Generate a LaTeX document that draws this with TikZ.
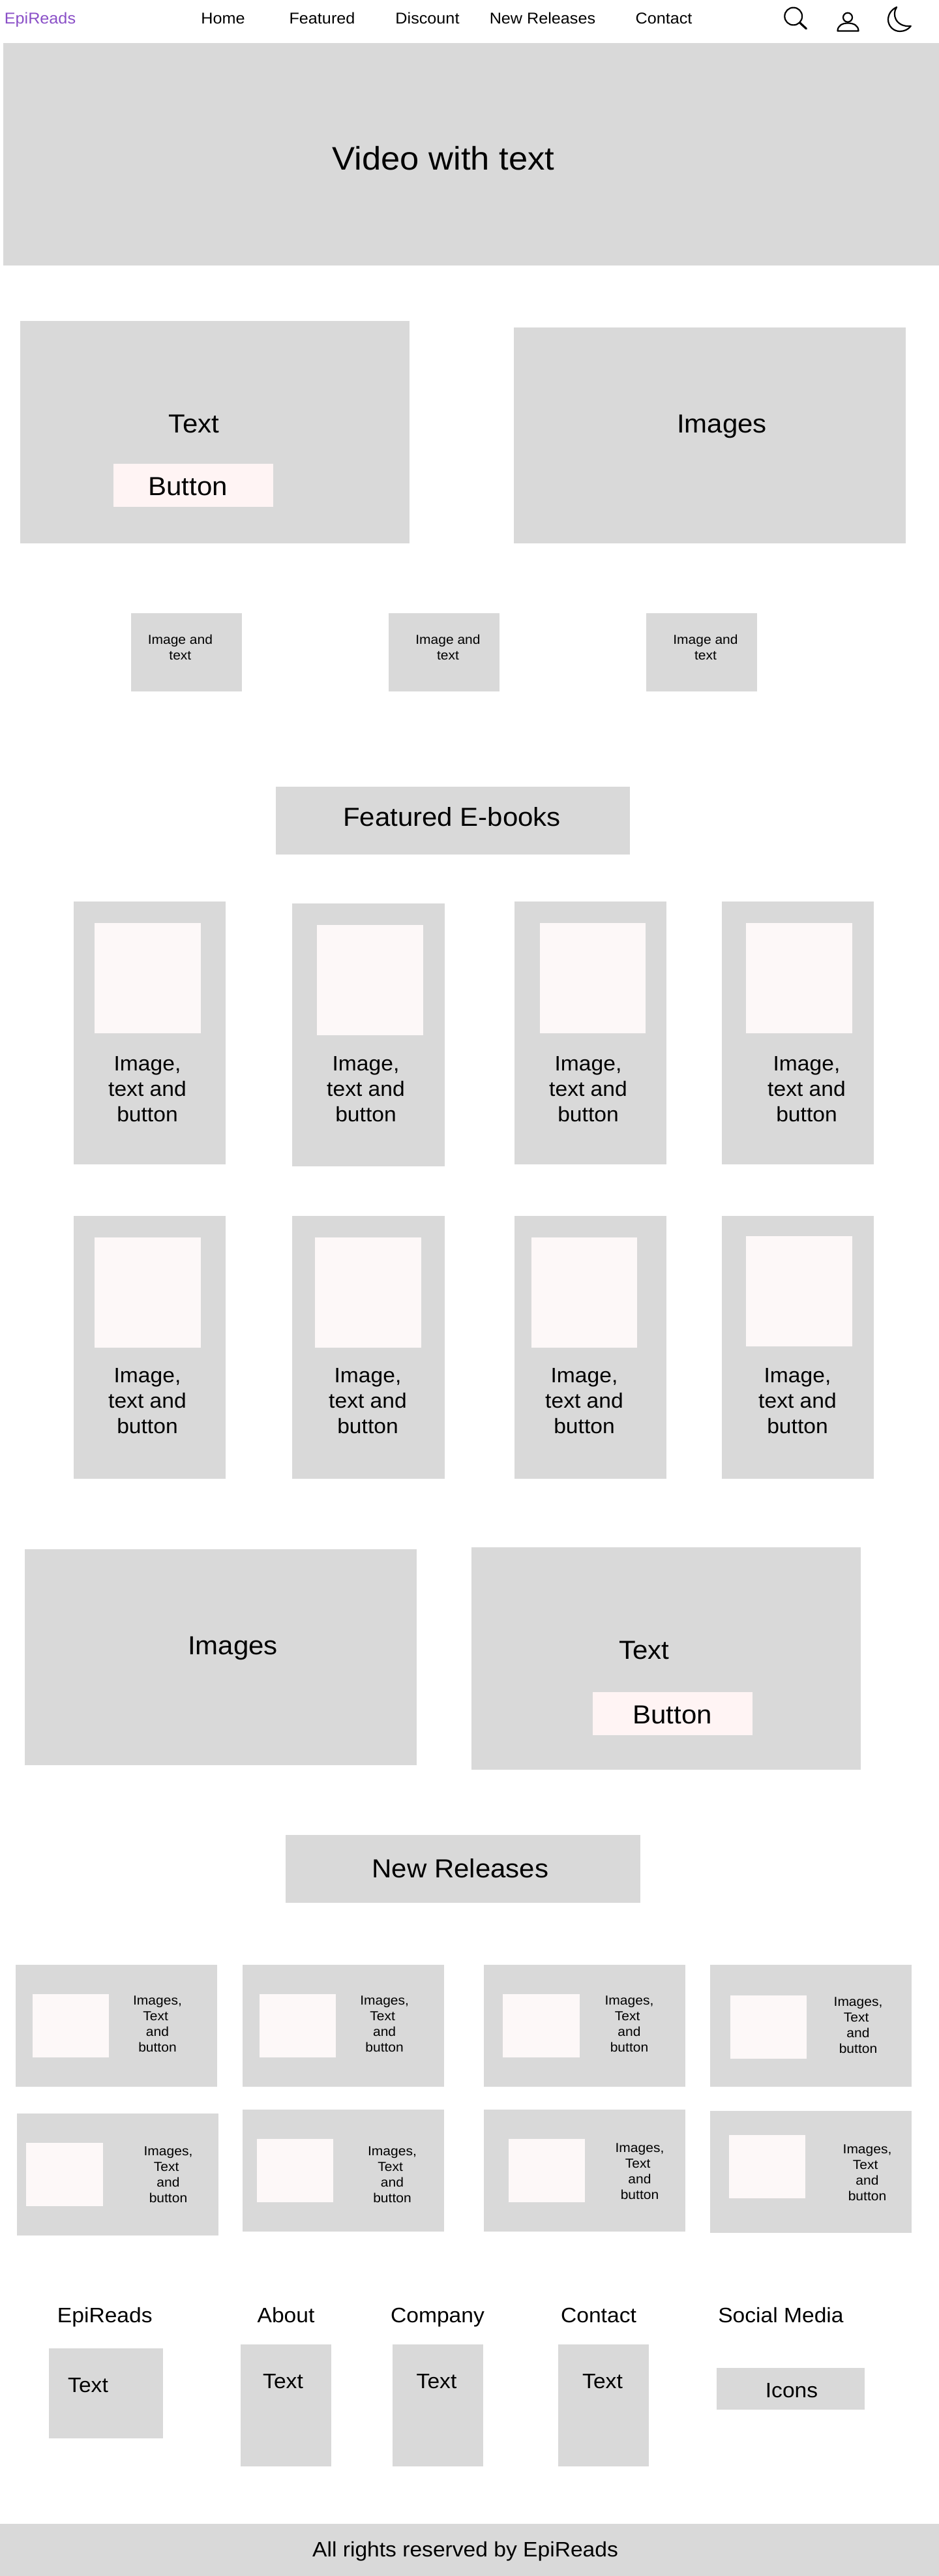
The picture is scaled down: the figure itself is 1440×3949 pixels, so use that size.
\documentclass[tikz,border=0pt]{standalone}
\usepackage{fontspec}
\setmainfont[FakeStretch=1.05]{Liberation Sans}
\definecolor{boxgray}{HTML}{D9D9D9}
\definecolor{btnpink}{HTML}{FFF4F4}
\definecolor{imgpink}{HTML}{FDF8F8}
\definecolor{logopurple}{HTML}{8A4FC7}
\tikzset{
  gbox/.style={fill=boxgray},
  btnbox/.style={fill=btnpink},
  imgbox/.style={fill=imgpink},
  txt/.style={inner sep=0pt,outer sep=0pt,align=center,text=black},
  tA/.style={txt,font=\fontsize{20}{24}\selectfont,yshift=-2.4pt},
  tB/.style={txt,font=\fontsize{24}{29}\selectfont,yshift=-2.9pt},
  tC/.style={txt,font=\fontsize{32}{39}\selectfont,yshift=-3.8pt},
  tD/.style={txt,font=\fontsize{40}{48}\selectfont,yshift=-4.8pt},
  tE/.style={txt,font=\fontsize{50}{60}\selectfont,yshift=-6pt},
  icon/.style={draw=black,line width=2.2pt,line cap=round,line join=round},
}
\newcommand{\srect}[5]{\path[#1] (#2,#3) rectangle (#4,#5);}
\newcommand{\fcard}[8]{%
  \srect{gbox}{#2}{#3}{#4}{#5}
  \srect{imgbox}{#6}{#7}{#6+162.6}{#7+169}
  \node[tC] (#1) at (#8,\ftexty) {Image,\strut\\text and\strut\\button\strut};
}
\newcommand{\rcard}[8]{%
  \srect{gbox}{#2}{#3}{#2+309}{#3+187}
  \srect{imgbox}{#4}{#5}{#4+117.4}{#5+97}
  \node[tA] (#1) at (#6,#7) {Images,\strut\\Text~\strut\\and\strut\\button\strut};
}
\begin{document}
\begin{tikzpicture}[x=1pt,y=-1pt]
\useasboundingbox (0,0) rectangle (1440,3949);
\fill[white] (0,0) rectangle (1440,3949);
% nav
\node[tB,text=logopurple] (logo) at (61.5,28) {EpiReads\strut};
\node[tB] (nhome) at (342,28) {Home\strut};
\node[tB] (nfeat) at (494,28) {Featured\strut};
\node[tB] (ndisc) at (655.5,28) {Discount\strut};
\node[tB] (nnew) at (832,28) {New Releases\strut};
\node[tB] (ncont) at (1018,28) {Contact\strut};
% icons
\draw[icon] (1216.7,25) circle (13.4);
\draw[icon,line width=3.2pt] (1226.7,35) -- (1236.5,44);
\draw[icon] (1300,26.7) circle (7);
\draw[icon] (1284.5,47.5) .. controls (1284.5,39) and (1292,35.5) .. (1300.3,35.5) .. controls (1309,35.5) and (1316.5,39) .. (1316.5,47.5) -- cycle;
\draw[icon] (1375,11) .. controls (1366,15) and (1362,23) .. (1362,30) .. controls (1362,40) and (1370,48) .. (1380,48) .. controls (1387,48) and (1393,45) .. (1396.8,40) .. controls (1386,41) and (1378,37) .. (1374,30) .. controls (1371,24) and (1371,17) .. (1375,11) -- cycle;
% hero
\srect{gbox}{5}{66}{1440}{407}
\node[tE] (hero) at (680,242) {Video with text\strut};
% split 1
\srect{gbox}{31}{492}{628}{833}
\srect{gbox}{788}{502}{1389}{833}
\srect{btnbox}{174}{711}{419}{777}
\node[tD] (s1t) at (297.5,649) {Text\strut};
\node[tD] (s1b) at (288,745) {Button\strut};
\node[tD] (s1i) at (1107,649) {Images\strut};
% small boxes
\srect{gbox}{201}{940}{371}{1060}
\srect{gbox}{596}{940}{766}{1060}
\srect{gbox}{991}{940}{1161}{1060}
\node[tA] (sm1) at (276.4,992) {Image and\strut\\text\strut};
\node[tA] (sm2) at (687,992) {Image and\strut\\text\strut};
\node[tA] (sm3) at (1082,992) {Image and\strut\\text\strut};
% featured
\srect{gbox}{422.5}{1206}{966}{1310}
\node[tD] (feat) at (693,1252) {Featured E-books\strut};
\def\ftexty{1669}
\fcard{f1}{113}{1382}{346}{1785}{145}{1415}{226}
\fcard{f2}{448}{1385}{681.5}{1788}{486}{1418}{561}
\fcard{f3}{789}{1382}{1022}{1785}{827.5}{1415}{902}
\fcard{f4}{1107}{1382}{1340}{1785}{1144}{1415}{1237}
\def\ftexty{2147}
\fcard{f5}{113}{1864}{346}{2267}{145}{1897}{226}
\fcard{f6}{448}{1864}{681.5}{2267}{483}{1897}{564}
\fcard{f7}{789}{1864}{1022}{2267}{814.6}{1897}{896}
\fcard{f8}{1107}{1864}{1340}{2267}{1144}{1895}{1223}
% split 2
\srect{gbox}{37.7}{2375}{639}{2706}
\srect{gbox}{723}{2372}{1320}{2713}
\srect{btnbox}{909}{2594}{1154}{2660}
\node[tD] (s2i) at (357,2522) {Images\strut};
\node[tD] (s2t) at (988,2529) {Text\strut};
\node[tD] (s2b) at (1031,2628) {Button\strut};
% new releases
\srect{gbox}{438}{2813}{982}{2917}
\node[tD] (newr) at (706,2864) {New Releases\strut};
\rcard{r1}{24}{3012}{49.6}{3057}{241.5}{3102}{}
\rcard{r2}{372}{3012}{397.6}{3057}{589.6}{3102}{}
\rcard{r3}{742}{3012}{771.4}{3057}{965}{3102}{}
\rcard{r4}{1089}{3012}{1120}{3059}{1316}{3104}{}
\rcard{r5}{25.7}{3240}{40.4}{3285}{258}{3333.5}{}
\rcard{r6}{372}{3234}{394}{3279}{601.5}{3333.5}{}
\rcard{r7}{742}{3234}{779.7}{3279}{981}{3328}{}
\rcard{r8}{1089}{3236}{1117.6}{3273}{1330}{3330}{}
% footer
\node[tC] (h1) at (160.8,3549) {EpiReads\strut};
\node[tC] (h2) at (438.5,3549) {About\strut};
\node[tC] (h3) at (671,3549) {Company\strut};
\node[tC] (h4) at (918,3549) {Contact\strut};
\node[tC] (h5) at (1197.5,3549) {Social Media\strut};
\srect{gbox}{75.3}{3599.6}{250}{3738}
\srect{gbox}{369}{3593.6}{508}{3781}
\srect{gbox}{602.4}{3593.6}{741}{3781}
\srect{gbox}{856}{3593.6}{994.6}{3781}
\srect{gbox}{1099.3}{3629.7}{1326}{3694}
\node[tC] (b1) at (135,3655.5) {Text\strut};
\node[tC] (b2) at (434,3649.5) {Text\strut};
\node[tC] (b3) at (669.5,3649.5) {Text\strut};
\node[tC] (b4) at (924,3649.5) {Text\strut};
\node[tC] (b5) at (1214,3663.5) {Icons\strut};
\srect{gbox}{0}{3868.7}{1440}{3949}
\node[tC] (copy) at (713.6,3908) {All rights reserved by EpiReads\strut};
\end{tikzpicture}
\end{document}
